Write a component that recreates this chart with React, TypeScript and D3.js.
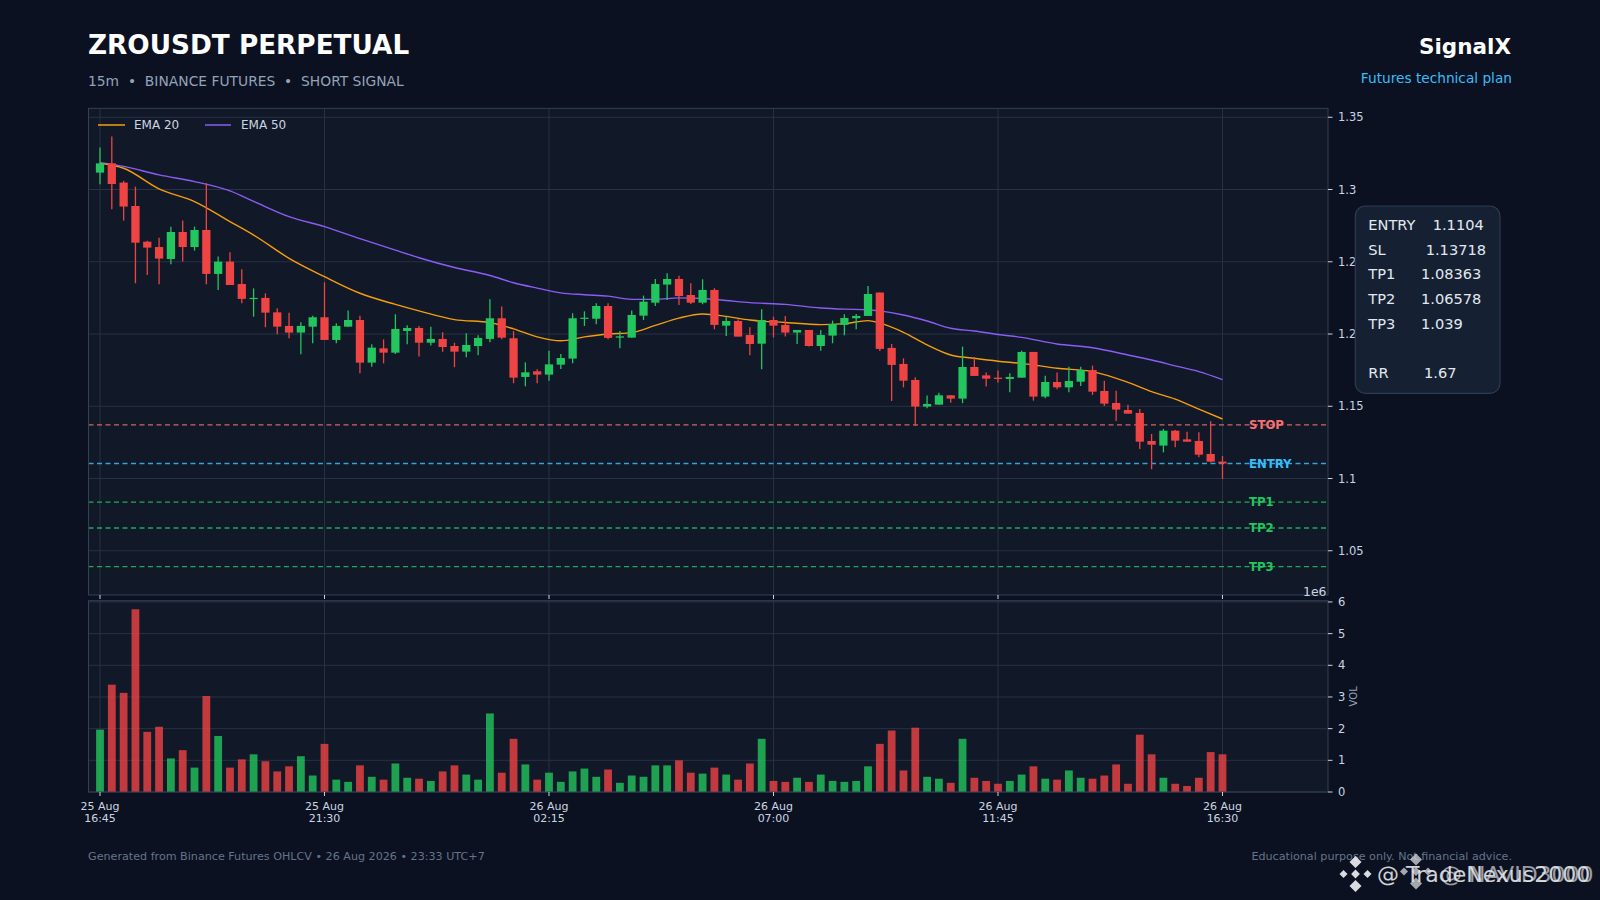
import React from 'react';
import * as d3 from 'd3';

// candles, 15m, index 0 = 25 Aug 16:45
const opens = [1.3117, 1.3181, 1.3048, 1.2886, 1.2639, 1.2602, 1.2519, 1.2706, 1.2602, 1.2720, 1.2416, 1.2501, 1.2346, 1.2247, 1.2250, 1.2150, 1.2056, 1.2010, 1.2051, 1.2116, 1.1959, 1.2051, 1.2097, 1.1802, 1.1901, 1.1871, 1.2021, 1.2042, 1.1940, 1.1966, 1.1917, 1.1878, 1.1917, 1.1966, 1.2109, 1.1971, 1.1703, 1.1742, 1.1719, 1.1788, 1.1830, 1.2106, 1.2106, 1.2194, 1.1975, 1.1975, 1.2127, 1.2217, 1.2342, 1.2381, 1.2270, 1.2217, 1.2305, 1.2058, 1.2090, 1.1993, 1.1933, 1.2097, 1.2063, 1.2010, 1.2028, 1.1917, 1.1989, 1.2063, 1.2109, 1.2125, 1.2287, 1.1904, 1.1793, 1.1682, 1.1498, 1.1511, 1.1576, 1.1553, 1.1772, 1.1714, 1.1698, 1.1689, 1.1698, 1.1876, 1.1567, 1.1668, 1.1631, 1.1670, 1.1751, 1.1606, 1.1523, 1.1474, 1.1454, 1.1260, 1.1228, 1.1331, 1.1271, 1.1260, 1.1170, 1.1117];
const highs = [1.3290, 1.3366, 1.3060, 1.3020, 1.2646, 1.2667, 1.2743, 1.2785, 1.2743, 1.3043, 1.2536, 1.2566, 1.2448, 1.2316, 1.2282, 1.2178, 1.2148, 1.2081, 1.2127, 1.2358, 1.2074, 1.2162, 1.2127, 1.1929, 1.1963, 1.2137, 1.2060, 1.2056, 1.2051, 1.2012, 1.1940, 1.2005, 1.1991, 1.2240, 1.2190, 1.2021, 1.1804, 1.1756, 1.1885, 1.1862, 1.2144, 1.2157, 1.2213, 1.2213, 1.2021, 1.2162, 1.2266, 1.2381, 1.2420, 1.2404, 1.2351, 1.2379, 1.2317, 1.2120, 1.2102, 1.2047, 1.2171, 1.2120, 1.2125, 1.2028, 1.2028, 1.2028, 1.2093, 1.2137, 1.2139, 1.2333, 1.2287, 1.1931, 1.1832, 1.1701, 1.1574, 1.1594, 1.1576, 1.1913, 1.1839, 1.1733, 1.1747, 1.1728, 1.1885, 1.1876, 1.1712, 1.1733, 1.1774, 1.1774, 1.1781, 1.1677, 1.1608, 1.1511, 1.1481, 1.1308, 1.1343, 1.1336, 1.1324, 1.1320, 1.1396, 1.1156];
const lows = [1.3036, 1.2863, 1.2785, 1.2351, 1.2409, 1.2344, 1.2482, 1.2501, 1.2577, 1.2344, 1.2305, 1.2339, 1.2213, 1.2120, 1.2047, 1.1998, 1.1970, 1.1860, 1.1936, 1.1959, 1.1936, 1.2051, 1.1728, 1.1774, 1.1797, 1.1862, 1.1929, 1.1844, 1.1920, 1.1878, 1.1770, 1.1839, 1.1853, 1.1943, 1.1963, 1.1659, 1.1638, 1.1659, 1.1677, 1.1758, 1.1797, 1.2056, 1.2067, 1.1963, 1.1901, 1.1975, 1.2097, 1.2194, 1.2236, 1.2201, 1.2208, 1.2206, 1.2033, 1.1987, 1.1982, 1.1853, 1.1756, 1.1977, 1.1982, 1.1931, 1.1913, 1.1885, 1.1936, 1.1991, 1.2033, 1.2125, 1.1883, 1.1537, 1.1631, 1.1364, 1.1486, 1.1511, 1.1525, 1.1521, 1.1710, 1.1636, 1.1664, 1.1597, 1.1698, 1.1539, 1.1555, 1.1617, 1.1597, 1.1640, 1.1578, 1.1502, 1.1398, 1.1449, 1.1204, 1.1064, 1.1181, 1.1216, 1.1255, 1.1147, 1.1112, 1.0997];
const closes = [1.3181, 1.3038, 1.2882, 1.2632, 1.2598, 1.2522, 1.2706, 1.2602, 1.2720, 1.2416, 1.2501, 1.2339, 1.2243, 1.2250, 1.2148, 1.2051, 1.2010, 1.2056, 1.2116, 1.1959, 1.2056, 1.2097, 1.1802, 1.1906, 1.1871, 1.2035, 1.2042, 1.1940, 1.1966, 1.1910, 1.1878, 1.1924, 1.1973, 1.2109, 1.1975, 1.1698, 1.1735, 1.1719, 1.1790, 1.1834, 1.2109, 1.2113, 1.2194, 1.1973, 1.1984, 1.2132, 1.2224, 1.2346, 1.2381, 1.2263, 1.2217, 1.2305, 1.2063, 1.2090, 1.1982, 1.1931, 1.2097, 1.2058, 1.2010, 1.2028, 1.1917, 1.1993, 1.2070, 1.2111, 1.2125, 1.2277, 1.1897, 1.1786, 1.1677, 1.1498, 1.1516, 1.1576, 1.1553, 1.1772, 1.1710, 1.1691, 1.1689, 1.1703, 1.1876, 1.1567, 1.1668, 1.1631, 1.1675, 1.1751, 1.1601, 1.1518, 1.1477, 1.1449, 1.1255, 1.1234, 1.1331, 1.1262, 1.1255, 1.1165, 1.1117, 1.1104];
// volume in millions
const volumes = [1.97, 3.39, 3.13, 5.77, 1.90, 2.06, 1.06, 1.32, 0.77, 3.03, 1.77, 0.77, 1.03, 1.19, 0.97, 0.65, 0.81, 1.13, 0.52, 1.52, 0.39, 0.32, 0.84, 0.48, 0.39, 0.90, 0.45, 0.42, 0.35, 0.65, 0.84, 0.55, 0.39, 2.48, 0.61, 1.68, 0.87, 0.39, 0.61, 0.32, 0.65, 0.74, 0.48, 0.71, 0.29, 0.52, 0.48, 0.84, 0.84, 1.00, 0.61, 0.58, 0.77, 0.55, 0.39, 0.90, 1.68, 0.35, 0.32, 0.45, 0.32, 0.55, 0.35, 0.32, 0.35, 0.81, 1.52, 1.94, 0.68, 2.03, 0.48, 0.42, 0.29, 1.68, 0.45, 0.35, 0.26, 0.35, 0.55, 0.81, 0.42, 0.39, 0.68, 0.45, 0.42, 0.52, 0.87, 0.26, 1.81, 1.19, 0.45, 0.26, 0.19, 0.45, 1.26, 1.19];

// EMA values at these candle indices
const emaIdx = [0, 2, 5, 8, 11, 13, 16, 19, 22, 25, 27, 30, 33, 35, 37, 39, 41, 43, 45, 47, 49, 51, 53, 55, 58, 61, 63, 65, 66, 68, 70, 72, 74, 76, 78, 81, 84, 87, 89, 91, 93, 95];
const ema20 = [1.3181, 1.3147, 1.3004, 1.2916, 1.2778, 1.2685, 1.2524, 1.2397, 1.2282, 1.2205, 1.2160, 1.2100, 1.2079, 1.2036, 1.1980, 1.1953, 1.1980, 1.2000, 1.2010, 1.2060, 1.2110, 1.2139, 1.2122, 1.2097, 1.2080, 1.2065, 1.2072, 1.2093, 1.2075, 1.2012, 1.1925, 1.1855, 1.1832, 1.1812, 1.1797, 1.1763, 1.1740, 1.1665, 1.1601, 1.1550, 1.1480, 1.1412];
const ema50 = [1.3186, 1.3160, 1.3101, 1.3055, 1.2990, 1.2918, 1.2812, 1.2743, 1.2660, 1.2580, 1.2528, 1.2460, 1.2405, 1.2355, 1.2318, 1.2285, 1.2272, 1.2262, 1.2240, 1.2240, 1.2250, 1.2246, 1.2232, 1.2217, 1.2205, 1.2180, 1.2172, 1.2168, 1.2160, 1.2132, 1.2090, 1.2040, 1.2021, 1.1997, 1.1977, 1.1931, 1.1905, 1.1855, 1.1820, 1.1780, 1.1740, 1.1685];

const xTickIdx = [0, 19, 38, 57, 76, 95];
const xTickDay = ['25 Aug', '25 Aug', '26 Aug', '26 Aug', '26 Aug', '26 Aug'];
const xTickTime = ['16:45', '21:30', '02:15', '07:00', '11:45', '16:30'];
const priceTicks = [1.05, 1.1, 1.15, 1.2, 1.25, 1.3, 1.35];
const volTicks = [0, 1, 2, 3, 4, 5, 6];

const levelNames = ['STOP', 'ENTRY', 'TP1', 'TP2', 'TP3'];
const levelValues = [1.13718, 1.1104, 1.08363, 1.06578, 1.039];
const levelColors = ['#f87171', '#38bdf8', '#22c55e', '#22c55e', '#22c55e'];

const planLabels = ['ENTRY', 'SL', 'TP1', 'TP2', 'TP3', '', 'RR'];
const planValues = ['1.1104', '1.13718', '1.08363', '1.06578', '1.039', '', '1.67'];
const planValueX = [1432.7, 1425.7, 1421, 1421, 1421, 0, 1424];

const W = 1600, H = 900;
const PL = 88.5, PR = 1328, PT = 108.3, PB = 595, VT = 600.7, VB = 792;
const FONT = '"DejaVu Sans", sans-serif';
const UP = '#22c55e', DOWN = '#ef4444';
const GRID = '#273244', SPINE = '#334155', TICK = '#cbd5e1';

function BinanceLogo({ cx, cy, s, fill, opacity }: { cx: number; cy: number; s: number; fill: string; opacity: number }) {
  const sq = (x: number, y: number, r: number) => `M${x},${y - r}L${x + r},${y}L${x},${y + r}L${x - r},${y}Z`;
  const d = [sq(cx, cy, s * 0.22), sq(cx - s * 0.6, cy, s * 0.2), sq(cx + s * 0.6, cy, s * 0.2),
    sq(cx, cy - s * 0.6, s * 0.3), sq(cx, cy + s * 0.6, s * 0.3)].join('');
  return <path d={d} fill={fill} opacity={opacity} />;
}

export default function App() {
  const x = d3.scaleLinear().domain([-0.973, 103.93]).range([PL, PR]);
  const y = d3.scaleLinear().domain([1.0194, 1.3562]).range([PB, PT]);
  const yv = d3.scaleLinear().domain([0, 6.04]).range([VB, VT]);
  const step = x(1) - x(0);
  const bodyW = step * 0.7;
  const volW = step * 0.66;

  const line = d3.line<number>().x((_, i) => x(emaIdx[i])).y(d => y(d)).curve(d3.curveMonotoneX);

  return (
    <svg width={W} height={H} style={{ position: 'absolute', left: 0, top: 0, fontFamily: FONT }}>
      <rect width={W} height={H} fill="#0b1120" />

      {/* header */}
      <text x={88} y={54} fontSize={26.3} fontWeight="bold" fill="#ffffff">ZROUSDT PERPETUAL</text>
      <text x={88} y={86} fontSize={13.85} fill="#94a3b8" style={{ whiteSpace: 'pre' }}>{'15m  •  BINANCE FUTURES  •  SHORT SIGNAL'}</text>
      <text x={1511} y={54} fontSize={21.5} fontWeight="bold" fill="#ffffff" textAnchor="end">SignalX</text>
      <text x={1512} y={83} fontSize={13.7} fill="#38bdf8" textAnchor="end">Futures technical plan</text>

      {/* price panel */}
      <rect x={PL} y={PT} width={PR - PL} height={PB - PT} fill="#111827" />
      {priceTicks.map(t => <line key={'pg' + t} x1={PL} x2={PR} y1={y(t)} y2={y(t)} stroke={GRID} strokeWidth={1} />)}
      {xTickIdx.map(i => <line key={'xg' + i} x1={x(i)} x2={x(i)} y1={PT} y2={PB} stroke={GRID} strokeWidth={1} />)}

      {levelValues.map((v, i) => (
        <g key={levelNames[i]}>
          <text x={1249} y={y(v) + 4.2} fontSize={11.7} fontWeight="bold" fill={levelColors[i]}>{levelNames[i]}</text>
          <line x1={PL} x2={PR} y1={y(v)} y2={y(v)} stroke={levelColors[i]} strokeWidth={1.3} strokeDasharray="5,3.5" opacity={0.85} />
        </g>
      ))}

      <path d={line(ema50) || ''} fill="none" stroke="#8b5cf6" strokeWidth={1.4} />
      <path d={line(ema20) || ''} fill="none" stroke="#f59e0b" strokeWidth={1.4} />

      {closes.map((c, i) => {
        const o = opens[i];
        const col = c >= o ? UP : DOWN;
        const top = y(Math.max(o, c));
        const h = Math.max(1.2, Math.abs(y(o) - y(c)));
        return (
          <g key={'c' + i}>
            <line x1={x(i)} x2={x(i)} y1={y(highs[i])} y2={y(lows[i])} stroke={col} strokeWidth={1.3} />
            <rect x={x(i) - bodyW / 2} y={top} width={bodyW} height={h} fill={col} />
          </g>
        );
      })}

      {/* legend */}
      <line x1={98} x2={125} y1={125} y2={125} stroke="#f59e0b" strokeWidth={1.5} />
      <text x={134} y={129.3} fontSize={12} fill={TICK}>EMA 20</text>
      <line x1={205} x2={231} y1={125} y2={125} stroke="#8b5cf6" strokeWidth={1.5} />
      <text x={241} y={129.3} fontSize={12} fill={TICK}>EMA 50</text>

      <rect x={PL} y={PT} width={PR - PL} height={PB - PT} fill="none" stroke={SPINE} strokeWidth={1} />
      {priceTicks.map(t => (
        <g key={'pt' + t}>
          <line x1={PR} x2={PR + 4.5} y1={y(t)} y2={y(t)} stroke={TICK} strokeWidth={1} />
          <text x={PR + 10} y={y(t) + 4} fontSize={11.5} fill={TICK}>{String(t)}</text>
        </g>
      ))}
      {xTickIdx.map(i => <line key={'xt' + i} x1={x(i)} x2={x(i)} y1={PB} y2={PB + 4} stroke={TICK} strokeWidth={1} />)}

      {/* volume panel */}
      <rect x={PL} y={VT} width={PR - PL} height={VB - VT} fill="#111827" />
      {volTicks.map(t => <line key={'vg' + t} x1={PL} x2={PR} y1={yv(t)} y2={yv(t)} stroke={GRID} strokeWidth={1} />)}
      {xTickIdx.map(i => <line key={'vxg' + i} x1={x(i)} x2={x(i)} y1={VT} y2={VB} stroke={GRID} strokeWidth={1} />)}
      {volumes.map((v, i) => (
        <rect key={'v' + i} x={x(i) - volW / 2} y={yv(v)} width={volW} height={VB - yv(v)}
          fill={closes[i] >= opens[i] ? UP : DOWN} opacity={0.8} />
      ))}
      <rect x={PL} y={VT} width={PR - PL} height={VB - VT} fill="none" stroke={SPINE} strokeWidth={1} />
      {volTicks.map(t => (
        <g key={'vt' + t}>
          <line x1={PR} x2={PR + 4.5} y1={yv(t)} y2={yv(t)} stroke={TICK} strokeWidth={1} />
          <text x={PR + 10} y={yv(t) + 4} fontSize={11.5} fill={TICK}>{String(t)}</text>
        </g>
      ))}
      <text x={1326.5} y={596} fontSize={12.4} fill={TICK} textAnchor="end">1e6</text>
      <text transform={`translate(1357,${(VT + VB) / 2}) rotate(-90)`} fontSize={10} fill="#94a3b8" textAnchor="middle">VOL</text>
      {xTickIdx.map((i, k) => (
        <g key={'xl' + i}>
          <line x1={x(i)} x2={x(i)} y1={VB} y2={VB + 4} stroke={TICK} strokeWidth={1} />
          <text x={x(i)} y={810} fontSize={11} fill={TICK} textAnchor="middle">{xTickDay[k]}</text>
          <text x={x(i)} y={821.5} fontSize={11} fill={TICK} textAnchor="middle">{xTickTime[k]}</text>
        </g>
      ))}

      {/* trade plan box */}
      <rect x={1355.3} y={206} width={144.7} height={187.3} rx={10} fill="#162033" stroke="#2e3b50" strokeWidth={1.2} />
      {planLabels.map((l, i) => l && (
        <g key={'pl' + i}>
          <text x={1368.3} y={230 + i * 24.65} fontSize={14.6} fill="#e2e8f0">{l}</text>
          <text x={planValueX[i]} y={230 + i * 24.65} fontSize={14.6} fill="#e2e8f0">{planValues[i]}</text>
        </g>
      ))}

      {/* footer */}
      <text x={88} y={860} fontSize={11.15} fill="#64748b">Generated from Binance Futures OHLCV • 26 Aug 2026 • 23:33 UTC+7</text>
      <text x={1512} y={860} fontSize={11.15} fill="#64748b" textAnchor="end">Educational purpose only. Not financial advice.</text>

      {/* watermarks */}
      <BinanceLogo cx={1355.5} cy={874} s={20} fill="#e5e7eb" opacity={0.95} />
      <text x={1377} y={882} fontSize={22} fill="#e5e7eb" opacity={0.9}>@ TradeNexus2000</text>
      <BinanceLogo cx={1416} cy={871.5} s={20} fill="#e5e7eb" opacity={0.7} />
      <text x={1440} y={882} fontSize={22} fill="#e5e7eb" opacity={0.65}>@ NAVID3000</text>
    </svg>
  );
}
